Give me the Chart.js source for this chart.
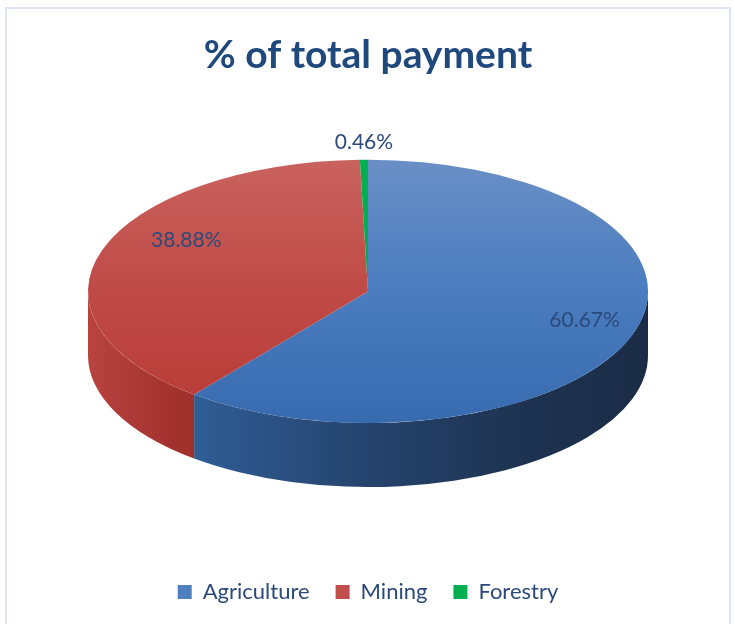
<!DOCTYPE html>
<html><head><meta charset="utf-8">
<script src="https://cdn.jsdelivr.net/npm/chart.js@4"></script>
<style>
html,body{margin:0;padding:0;background:#fff;}
#wrap{position:relative;width:735px;height:624px;overflow:hidden;}
#frame{position:absolute;left:5px;top:7px;width:726px;height:660px;border:2px solid #DCE5F1;box-sizing:border-box;pointer-events:none;}
</style></head><body>
<div id="wrap"><canvas id="c" width="735" height="624"></canvas><div id="frame"></div></div>
<script>
// ---- data ----
const categories = ['Agriculture', 'Mining', 'Forestry'];
const shares = [60.67, 38.88, 0.46];
const valueLabels = ['60.67%', '38.88%', '0.46%'];
const chartTitle = '% of total payment';

// ---- style ----
const topStops = [
  [[0, '#6A8FC6'], [0.5, '#4A7CBF'], [1, '#386AAF']],
  [[0, '#C9625E'], [0.5, '#BF4A46'], [1, '#B83A36']],
  [[0, '#00B050'], [1, '#00A84C']]
];
const sideStops = [
  [[0, '#3F6EAD'], [0.2, '#305C94'], [0.5, '#25436D'], [0.75, '#1E3453'], [1, '#1A2B45']],
  [[0, '#B8433F'], [0.15, '#A3322E'], [0.5, '#8E2926'], [1, '#7A2220']],
  [[0, '#008A3E'], [1, '#008A3E']]
];
const legendColors = ['#4F7FC0', '#C0504D', '#00B050'];
const TEXT = '#2B4A7B';
const TILT = 0.47, DEPTH = 0.2286, LABEL_R = 0.75, APEX = 0.12, PERSP = 0.28, TILT_LBL = 0.25;

function grad(ctx, x0, y0, x1, y1, stops) {
  const g = ctx.createLinearGradient(x0, y0, x1, y1);
  stops.forEach(s => g.addColorStop(s[0], s[1]));
  return g;
}
function geom(chart) {
  const el = chart.getDatasetMeta(0).data[0];
  const a = chart.chartArea;
  const rx = (a.right - a.left) / 2;
  const ry = rx * TILT, d = rx * DEPTH;
  return { el, rx, ry, d, cx: el.x, cy: el.y - d / 2, R: el.outerRadius };
}
function topFill(c) {
  const chart = c.chart, a = chart.chartArea;
  if (!a) return legendColors[c.dataIndex];
  const cy = (a.top + a.bottom) / 2, R = Math.min(a.right - a.left, a.bottom - a.top) / 2;
  return grad(chart.ctx, 0, cy - R, 0, cy + R, topStops[c.dataIndex]);
}

const pie3d = {
  id: 'pie3d',
  beforeDatasetsDraw(chart) {
    const ctx = chart.ctx;
    const g = geom(chart);
    const meta = chart.getDatasetMeta(0);
    meta.data.forEach((arc, i) => {
      const s = arc.startAngle, e = arc.endAngle;
      for (let k = -2; k <= 2; k++) {
        const lo = Math.max(s, 2 * Math.PI * k), hi = Math.min(e, 2 * Math.PI * k + Math.PI);
        if (hi <= lo) continue;
        ctx.save();
        ctx.fillStyle = grad(ctx, g.cx - g.rx, 0, g.cx + g.rx, 0, sideStops[i]);
        ctx.beginPath();
        ctx.ellipse(g.cx, g.cy, g.rx, g.ry, 0, lo, hi, false);
        ctx.ellipse(g.cx, g.cy + g.d, g.rx, g.ry, 0, hi, lo, true);
        ctx.closePath();
        ctx.fill();
        ctx.restore();
      }
    });
    ctx.save();
    ctx.translate(g.cx, g.cy);
    ctx.scale(g.rx / g.R, g.ry / g.R);
    ctx.translate(-g.el.x, -g.el.y);
  },
  afterDatasetsDraw(chart) {
    const ctx = chart.ctx;
    ctx.restore();
    const g = geom(chart);
    const meta = chart.getDatasetMeta(0);
    ctx.save();
    ctx.font = '21px Lato';
    ctx.fillStyle = TEXT;
    ctx.textAlign = 'center';
    ctx.textBaseline = 'middle';
    meta.data.forEach((arc, i) => {
      const mid = (arc.startAngle + arc.endAngle) / 2;
      const frac = (arc.endAngle - arc.startAngle) / (2 * Math.PI);
      const c = Math.cos(mid), s = Math.sin(mid);
      let x, y;
      if (frac < 0.05) {
        x = g.cx + g.rx * c;
        y = g.cy + g.ry * s - 18;
      } else {
        const p = 1 + PERSP * s;
        x = g.cx + LABEL_R * g.rx * c * p;
        y = g.cy - APEX * g.ry + LABEL_R * g.ry * s * p * (1 + TILT_LBL);
      }
      ctx.fillText(valueLabels[i], x, y);
    });
    ctx.restore();
  }
};

new Chart(document.getElementById('c'), {
  type: 'pie',
  data: {
    labels: categories,
    datasets: [{ data: shares, backgroundColor: topFill, borderWidth: 0 }]
  },
  options: {
    responsive: false,
    animation: false,
    events: [],
    layout: { padding: { left: 88, right: 87, top: 0, bottom: 11 } },
    plugins: {
      title: {
        display: true, text: chartTitle, color: '#1F497D',
        font: { family: 'Lato', size: 39, weight: 'bold' },
        padding: { top: 32, bottom: 13 }
      },
      legend: {
        position: 'bottom',
        labels: {
          color: TEXT, font: { family: 'Lato', size: 22 },
          boxWidth: 14, boxHeight: 14, padding: 26,
          generateLabels: () => categories.map((c, i) => ({
            text: c, fillStyle: legendColors[i], strokeStyle: legendColors[i],
            lineWidth: 0, hidden: false, index: i, fontColor: TEXT
          }))
        }
      },
      tooltip: { enabled: false }
    }
  },
  plugins: [pie3d]
});
</script>
</body></html>
